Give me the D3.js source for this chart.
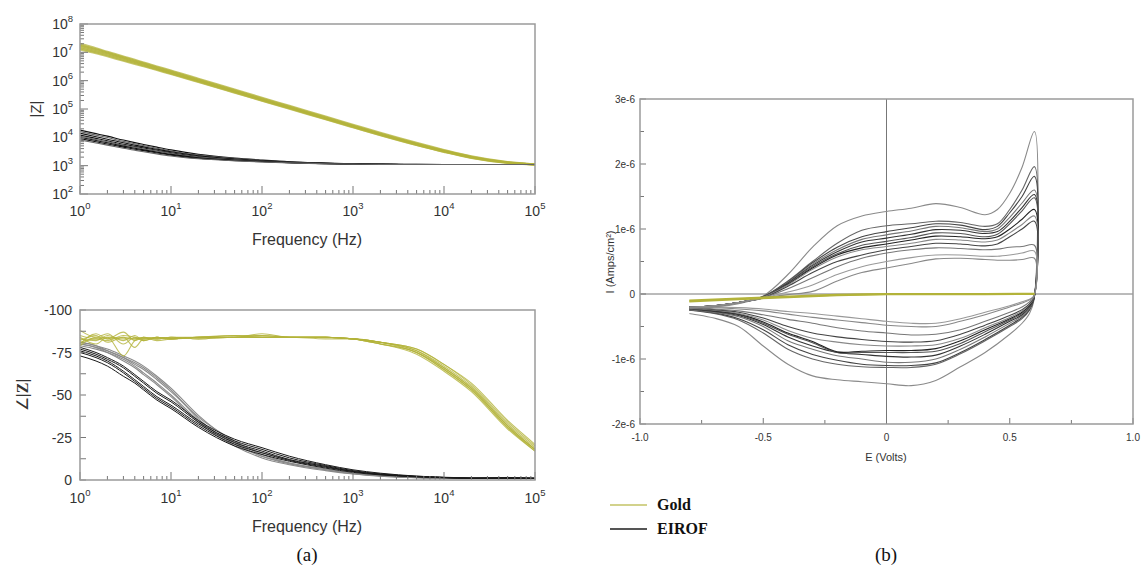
<!DOCTYPE html>
<html><head><meta charset="utf-8">
<script src="https://cdn.jsdelivr.net/npm/d3@7"></script>
<style>body{margin:0;background:#fff}svg{display:block}text{font-family:"Liberation Sans",Arial,sans-serif}</style>
</head><body><svg id="c" width="1142" height="571"></svg>
<script>
// ---------------- DATA ----------------
const freqs = [1,1.5,2,3,4,5,7,10,20,50,100,200,500,1000,2000,5000,10000,20000,50000,100000];
const zExp = ["0","1","2","3","4","5"];
const zTickExp = ["2","3","4","5","6","7","8"];
const phaseTicks = [0,-25,-50,-75,-100];
const eTicks = [-1.0,-0.5,0,0.5,1.0];
const eTickLabels = ["-1.0","-0.5","0","0.5","1.0"];
const iTicks = [-2e-6,-1e-6,0,1e-6,2e-6,3e-6];
const iTickLabels = ["-2e-6","-1e-6","0","1e-6","2e-6","3e-6"];

// |Z| gold (ohm)
const zGold1 = [2.0e7,1.4e7,1.05e7,7.2e6,5.5e6,4.4e6,3.2e6,2.3e6,1.17e6,4.9e5,2.5e5,1.3e5,5.4e4,2.8e4,1.45e4,6.4e3,3.6e3,2.15e3,1.35e3,1.12e3];
const zGold2 = [1.8e7,1.3e7,9.8e6,6.7e6,5.1e6,4.1e6,3.0e6,2.15e6,1.1e6,4.6e5,2.35e5,1.22e5,5.1e4,2.65e4,1.38e4,6.1e3,3.45e3,2.08e3,1.32e3,1.11e3];
const zGold3 = [1.7e7,1.2e7,9.2e6,6.3e6,4.8e6,3.9e6,2.8e6,2.0e6,1.03e6,4.3e5,2.2e5,1.15e5,4.8e4,2.5e4,1.3e4,5.8e3,3.3e3,2.0e3,1.3e3,1.1e3];
const zGold4 = [1.55e7,1.1e7,8.5e6,5.9e6,4.5e6,3.65e6,2.65e6,1.9e6,9.8e5,4.1e5,2.1e5,1.1e5,4.6e4,2.4e4,1.25e4,5.6e3,3.2e3,1.95e3,1.28e3,1.1e3];
const zGold5 = [1.4e7,1.0e7,7.8e6,5.4e6,4.2e6,3.4e6,2.5e6,1.8e6,9.3e5,3.9e5,2.0e5,1.05e5,4.4e4,2.3e4,1.2e4,5.4e3,3.1e3,1.9e3,1.26e3,1.09e3];
const zGold6 = [1.25e7,9.2e6,7.2e6,5.0e6,3.9e6,3.2e6,2.35e6,1.7e6,8.9e5,3.75e5,1.95e5,1.02e5,4.3e4,2.25e4,1.18e4,5.3e3,3.05e3,1.88e3,1.25e3,1.08e3];
// |Z| EIROF
const zIr1 = [1.8e4,1.35e4,1.1e4,8e3,6.5e3,5.6e3,4.5e3,3.6e3,2.5e3,1.85e3,1.58e3,1.38e3,1.24e3,1.17e3,1.13e3,1.11e3,1.1e3,1.1e3,1.1e3,1.1e3];
const zIr2 = [1.6e4,1.2e4,9.8e3,7.2e3,5.9e3,5.1e3,4.1e3,3.3e3,2.35e3,1.78e3,1.53e3,1.35e3,1.22e3,1.16e3,1.13e3,1.11e3,1.1e3,1.1e3,1.1e3,1.1e3];
const zIr3 = [1.4e4,1.05e4,8.6e3,6.4e3,5.3e3,4.6e3,3.8e3,3.1e3,2.25e3,1.72e3,1.5e3,1.33e3,1.21e3,1.15e3,1.12e3,1.1e3,1.1e3,1.1e3,1.1e3,1.1e3];
const zIr4 = [1.2e4,9.2e3,7.6e3,5.7e3,4.8e3,4.2e3,3.5e3,2.85e3,2.1e3,1.66e3,1.46e3,1.31e3,1.2e3,1.15e3,1.12e3,1.1e3,1.1e3,1.1e3,1.1e3,1.1e3];
const zIr5 = [1.1e4,8.4e3,7e3,5.3e3,4.5e3,3.9e3,3.3e3,2.7e3,2.0e3,1.62e3,1.43e3,1.29e3,1.19e3,1.14e3,1.12e3,1.1e3,1.1e3,1.1e3,1.1e3,1.1e3];
const zIr6 = [1.0e4,7.7e3,6.4e3,4.9e3,4.1e3,3.6e3,3.0e3,2.5e3,1.9e3,1.56e3,1.4e3,1.27e3,1.18e3,1.14e3,1.11e3,1.1e3,1.1e3,1.1e3,1.1e3,1.1e3];
const zIr7 = [9e3,7e3,5.8e3,4.5e3,3.8e3,3.4e3,2.8e3,2.35e3,1.82e3,1.52e3,1.37e3,1.26e3,1.17e3,1.13e3,1.11e3,1.1e3,1.1e3,1.1e3,1.1e3,1.1e3];
const zIr8 = [8e3,6.3e3,5.3e3,4.1e3,3.5e3,3.1e3,2.6e3,2.2e3,1.75e3,1.48e3,1.35e3,1.25e3,1.17e3,1.13e3,1.11e3,1.1e3,1.1e3,1.1e3,1.1e3,1.1e3];

// phase gold (deg)
const pGold1 = [-88,-84,-86,-80,-84,-83,-84,-83,-84,-84,-84,-84,-84,-83,-81,-76,-67,-55,-33,-19];
const pGold2 = [-80,-86,-83,-87,-82,-84,-83,-84,-84,-85,-85,-84,-84,-83,-81,-75,-66,-54,-32,-18];
const pGold3 = [-83,-82,-85,-82,-85,-82,-84,-83,-84,-84,-86,-84,-84,-83,-80,-75,-65,-53,-31,-17];
const pGold4 = [-82,-85,-81,-84,-78,-83,-83,-84,-83,-84,-84,-84,-83,-83,-81,-77,-68,-56,-34,-20];
const pGold5 = [-85,-83,-84,-83,-83,-84,-82,-83,-84,-84,-85,-84,-84,-83,-80,-74,-64,-52,-30,-17];
const pGold6 = [-81,-83,-82,-85,-84,-82,-84,-83,-84,-84,-84,-84,-84,-83,-81,-76,-66,-54,-32,-18];
const pGold7 = [-84,-80,-84,-73,-82,-84,-83,-84,-83,-84,-84,-84,-84,-83,-81,-77,-68,-57,-35,-21];
const pGold8 = [-79,-84,-83,-84,-83,-83,-84,-83,-84,-85,-84,-84,-84,-83,-80,-75,-65,-53,-31,-18];
// phase EIROF, darker group
const pIrA1 = [-76,-73,-70,-64,-59,-55,-49,-44,-33,-22,-17,-12,-8,-5,-3.5,-2,-1.5,-1,-1,-1];
const pIrA2 = [-75,-72,-69,-63,-58,-54,-48,-43,-32,-21,-16,-11.5,-7.5,-5,-3.2,-2,-1.4,-1,-1,-1];
const pIrA3 = [-73,-70,-67,-61,-57,-53,-47,-42,-31,-20,-15,-11,-7,-4.5,-3,-1.8,-1.3,-1,-1.2,-0.8];
const pIrA4 = [-77,-74,-71,-66,-61,-57,-51,-46,-34,-23,-18,-13,-8.5,-5.5,-3.6,-2.2,-1.5,-1.1,-1.5,-1];
const pIrA5 = [-78,-75,-72,-67,-62,-58,-52,-47,-35,-24,-19,-14,-9,-6,-4,-2.3,-1.6,-1.2,-1,-1];
// phase EIROF, lighter group
const pIrB1 = [-80,-78,-76,-72,-68,-65,-59,-52,-37,-23,-15,-10,-6.5,-4,-2.6,-1.5,-1.1,-1,-1,-1];
const pIrB2 = [-81,-79,-77,-73,-70,-67,-61,-54,-38,-22,-14,-9.5,-6,-3.7,-2.4,-1.4,-1,-1,-1,-1];
const pIrB3 = [-79,-77,-75,-71,-67,-63,-57,-50,-35,-22,-16,-12,-8,-5,-3,-1.8,-1.2,-1,-1,-1];
const pIrB4 = [-80,-78,-75,-70,-66,-62,-56,-49,-34,-20,-13,-9,-5.5,-3.5,-2.2,-1.3,-1,-1,-1,-1];
const pIrB5 = [-81,-79,-76,-72,-69,-66,-60,-53,-36,-21,-14,-10,-6,-4,-2.5,-1.5,-1,-1,-1,-1];

// CV (E in V, I in uA/cm2)
const eUp   = [-0.8,-0.7,-0.6,-0.5,-0.4,-0.3,-0.2,-0.1,0,0.1,0.2,0.3,0.4,0.45,0.5,0.55,0.6];
const eDown = [0.598,0.58,0.55,0.5,0.4,0.3,0.2,0.1,0,-0.1,-0.2,-0.3,-0.4,-0.5,-0.6,-0.7,-0.8];
const up1  = [-0.22,-0.2,-0.15,-0.03,0.3,0.72,1.05,1.2,1.27,1.32,1.39,1.33,1.22,1.3,1.55,1.95,2.5];
const up2  = [-0.2,-0.18,-0.13,-0.04,0.2,0.5,0.78,0.98,1.05,1.08,1.12,1.1,1.04,1.08,1.3,1.6,1.96];
const up3  = [-0.21,-0.18,-0.13,-0.04,0.19,0.48,0.72,0.88,0.96,1.02,1.08,1.06,0.99,1.04,1.25,1.5,1.81];
const up4  = [-0.2,-0.18,-0.13,-0.05,0.18,0.46,0.68,0.84,0.91,0.97,1.04,1.02,0.96,1.0,1.18,1.4,1.6];
const up5  = [-0.21,-0.19,-0.13,-0.05,0.17,0.44,0.65,0.8,0.86,0.92,0.99,0.98,0.93,0.96,1.12,1.33,1.53];
const up6  = [-0.2,-0.18,-0.13,-0.05,0.16,0.42,0.62,0.75,0.81,0.87,0.94,0.93,0.88,0.92,1.08,1.28,1.48];
const up7  = [-0.2,-0.18,-0.13,-0.05,0.15,0.4,0.6,0.71,0.77,0.83,0.89,0.88,0.85,0.88,1.0,1.15,1.3];
const up8  = [-0.21,-0.18,-0.13,-0.05,0.14,0.38,0.57,0.68,0.73,0.78,0.84,0.83,0.8,0.83,0.94,1.07,1.2];
const up9  = [-0.2,-0.18,-0.13,-0.06,0.12,0.33,0.5,0.6,0.68,0.73,0.78,0.77,0.74,0.77,0.88,1.0,1.12];
const up10 = [-0.21,-0.18,-0.13,-0.06,0.08,0.25,0.42,0.55,0.63,0.68,0.71,0.7,0.68,0.69,0.72,0.73,0.75];
const up11 = [-0.2,-0.18,-0.13,-0.06,0.03,0.14,0.3,0.42,0.5,0.56,0.6,0.6,0.58,0.58,0.6,0.63,0.66];
const up12 = [-0.22,-0.19,-0.14,-0.06,-0.01,0.04,0.2,0.33,0.4,0.47,0.54,0.55,0.53,0.52,0.52,0.53,0.55];
const dn1  = [-0.1,-0.3,-0.45,-0.62,-0.9,-1.12,-1.33,-1.41,-1.38,-1.35,-1.32,-1.26,-1.08,-0.8,-0.5,-0.37,-0.3];
const dn2  = [-0.08,-0.25,-0.38,-0.5,-0.72,-0.92,-1.08,-1.13,-1.13,-1.12,-1.08,-1.0,-0.85,-0.6,-0.4,-0.3,-0.25];
const dn3  = [-0.08,-0.24,-0.36,-0.48,-0.7,-0.9,-1.06,-1.1,-1.1,-1.08,-1.02,-0.93,-0.78,-0.55,-0.38,-0.29,-0.25];
const dn4  = [-0.07,-0.22,-0.34,-0.45,-0.66,-0.85,-1.0,-1.05,-1.05,-1.0,-0.95,-0.85,-0.72,-0.5,-0.35,-0.28,-0.24];
const dn5  = [-0.07,-0.2,-0.32,-0.42,-0.62,-0.8,-0.94,-0.97,-0.96,-0.93,-0.9,-0.8,-0.66,-0.47,-0.33,-0.27,-0.23];
const dn6  = [-0.06,-0.2,-0.3,-0.4,-0.58,-0.76,-0.88,-0.9,-0.9,-0.9,-0.9,-0.75,-0.62,-0.45,-0.32,-0.26,-0.23];
const dn7  = [-0.06,-0.18,-0.28,-0.38,-0.55,-0.72,-0.84,-0.87,-0.87,-0.88,-0.89,-0.73,-0.6,-0.43,-0.31,-0.26,-0.22];
const dn8  = [-0.05,-0.16,-0.26,-0.36,-0.52,-0.68,-0.78,-0.8,-0.8,-0.78,-0.74,-0.68,-0.56,-0.4,-0.3,-0.25,-0.22];
const dn9  = [-0.05,-0.15,-0.24,-0.33,-0.48,-0.62,-0.72,-0.74,-0.73,-0.7,-0.66,-0.6,-0.5,-0.37,-0.28,-0.24,-0.21];
const dn10 = [-0.04,-0.12,-0.2,-0.28,-0.42,-0.55,-0.62,-0.63,-0.6,-0.57,-0.52,-0.45,-0.39,-0.32,-0.26,-0.23,-0.21];
const dn11 = [-0.03,-0.08,-0.12,-0.18,-0.28,-0.38,-0.45,-0.45,-0.42,-0.38,-0.34,-0.3,-0.27,-0.23,-0.21,-0.2,-0.2];
const dn12 = [-0.03,-0.09,-0.14,-0.2,-0.32,-0.42,-0.5,-0.5,-0.48,-0.44,-0.4,-0.36,-0.31,-0.26,-0.23,-0.21,-0.2];
// gold CV
const eGold = [-0.8,-0.6,-0.4,-0.2,0,0.2,0.4,0.6];
const goldFwd = [-0.1,-0.07,-0.04,-0.01,0,0,0,0.005];
const goldRev = [-0.115,-0.08,-0.05,-0.02,-0.005,-0.003,-0.002,-0.001];

const legendNames = ["Gold","EIROF"];

// ---------------- DRAW ----------------
const svg = d3.select("#c");
const GOLD = "#b3b33a", FRAME = "#9a9a9a", TXT = "#333";
const SERIF = "'Liberation Serif','Times New Roman',serif";

const xF = d3.scaleLog().domain([1,1e5]).range([80,535]);
const yZ = d3.scaleLog().domain([1e2,1e8]).range([194,24]);
const yP = d3.scaleLinear().domain([0,-100]).range([480,310]);
const xE = d3.scaleLinear().domain([-1,1]).range([640,1133]);
const yI = d3.scaleLinear().domain([-2e-6,3e-6]).range([424,99]);

const minorLog = [];
for (let d=0; d<5; d++) for (let k=2;k<=9;k++) minorLog.push(k*Math.pow(10,d));
const minorZ = [];
for (let d=2; d<8; d++) for (let k=2;k<=9;k++) minorZ.push(k*Math.pow(10,d));

function tickLines(g, vals, isX, scale, base, len, color){
  g.selectAll(null).data(vals).enter().append("line")
   .attr("x1", d=> isX? scale(d): base).attr("x2", d=> isX? scale(d): base+len)
   .attr("y1", d=> isX? base: scale(d)).attr("y2", d=> isX? base-len: scale(d))
   .attr("stroke", color).attr("stroke-width",1);
}
function pow10Label(g, x, y, exp, anchor){
  const t = g.append("text").attr("x",x).attr("y",y).attr("text-anchor",anchor)
    .attr("font-size",14).attr("fill",TXT);
  t.append("tspan").text("10");
  t.append("tspan").attr("dy",-7).attr("font-size",9.5).text(exp);
}

// ---- panel 1: |Z| ----
const g1 = svg.append("g");
const lineZ = d3.line().x((d,i)=>xF(freqs[i])).y(d=>yZ(d)).curve(d3.curveMonotoneX);
[zGold1,zGold2,zGold3,zGold4,zGold5,zGold6].forEach(s=>{
  g1.append("path").attr("d",lineZ(s)).attr("fill","none").attr("stroke",GOLD).attr("stroke-width",2).attr("opacity",0.75);
});
[zIr1,zIr2,zIr3,zIr4,zIr5,zIr6,zIr7,zIr8].forEach((s,i)=>{
  g1.append("path").attr("d",lineZ(s)).attr("fill","none").attr("stroke", i%3===1?"#666":"#111").attr("stroke-width",1.1);
});
tickLines(g1, [1,10,100,1000,10000,100000], true, xF, 194, 8, "#777");
tickLines(g1, minorLog, true, xF, 194, 4, "#777");
tickLines(g1, [1e2,1e3,1e4,1e5,1e6,1e7,1e8], false, yZ, 80, 8, "#777");
tickLines(g1, minorZ, false, yZ, 80, 4, "#777");
g1.append("rect").attr("x",80).attr("y",24).attr("width",455).attr("height",170).attr("fill","none").attr("stroke",FRAME).attr("stroke-width",1.5);
zExp.forEach((e,i)=> pow10Label(g1, xF(Math.pow(10,i)), 216, e, "middle"));
zTickExp.forEach(e=> pow10Label(g1, 73, yZ(Math.pow(10,+e))+5, e, "end"));
g1.append("text").attr("x",307).attr("y",245).attr("text-anchor","middle").attr("font-size",16).attr("fill",TXT).text("Frequency (Hz)");
g1.append("text").attr("transform","translate(41,109) rotate(-90)").attr("text-anchor","middle").attr("font-size",15).attr("fill",TXT).text("|Z|");

// ---- panel 2: phase ----
const g2 = svg.append("g");
const lineP = d3.line().x((d,i)=>xF(freqs[i])).y(d=>yP(d)).curve(d3.curveMonotoneX);
[pIrB1,pIrB2,pIrB3,pIrB4,pIrB5].forEach(s=>{
  g2.append("path").attr("d",lineP(s)).attr("fill","none").attr("stroke","#8a8a8a").attr("stroke-width",1.1);
});
[pIrA1,pIrA2,pIrA3,pIrA4,pIrA5].forEach(s=>{
  g2.append("path").attr("d",lineP(s)).attr("fill","none").attr("stroke","#1a1a1a").attr("stroke-width",1);
});
[pGold1,pGold2,pGold3,pGold4,pGold5,pGold6,pGold7,pGold8].forEach(s=>{
  g2.append("path").attr("d",lineP(s)).attr("fill","none").attr("stroke",GOLD).attr("stroke-width",1.1).attr("opacity",0.8);
});
tickLines(g2, [1,10,100,1000,10000,100000], true, xF, 480, 8, "#777");
tickLines(g2, minorLog, true, xF, 480, 4, "#777");
tickLines(g2, [0,-12.5,-25,-37.5,-50,-62.5,-75,-87.5,-100], false, yP, 80, 6, "#777");
g2.append("rect").attr("x",80).attr("y",310).attr("width",455).attr("height",170).attr("fill","none").attr("stroke",FRAME).attr("stroke-width",1.5);
zExp.forEach((e,i)=> pow10Label(g2, xF(Math.pow(10,i)), 503, e, "middle"));
phaseTicks.forEach(v=> g2.append("text").attr("x",72).attr("y",yP(v)+5).attr("text-anchor","end").attr("font-size",14).attr("fill",TXT).text(v));
g2.append("text").attr("x",307).attr("y",532).attr("text-anchor","middle").attr("font-size",16).attr("fill",TXT).text("Frequency (Hz)");
const yl = g2.append("text").attr("transform","translate(28,395) rotate(-90)").attr("text-anchor","middle").attr("font-size",16).attr("fill",TXT);
yl.append("tspan").text("∠|");
yl.append("tspan").style("font-family",SERIF).style("font-weight","bold").text("Z");
yl.append("tspan").text("|");
svg.append("text").attr("x",307).attr("y",561).attr("text-anchor","middle").attr("font-size",19).style("font-family",SERIF).attr("fill","#111").text("(a)");

// ---- panel 3: CV ----
const g3 = svg.append("g");
g3.append("line").attr("x1",xE(0)).attr("x2",xE(0)).attr("y1",99).attr("y2",424).attr("stroke","#777").attr("stroke-width",1);
g3.append("line").attr("x1",640).attr("x2",1133).attr("y1",yI(0)).attr("y2",yI(0)).attr("stroke","#777").attr("stroke-width",1);
const loop = d3.line().x(d=>xE(d[0])).y(d=>yI(d[1]*1e-6)).curve(d3.curveCatmullRom.alpha(0.5));
const ups = [up1,up2,up3,up4,up5,up6,up7,up8,up9,up10,up11,up12];
const dns = [dn1,dn2,dn3,dn4,dn5,dn6,dn7,dn8,dn9,dn10,dn11,dn12];
const cvCol = ["#8a8a8a","#666","#444","#777","#333","#555","#222","#888","#444","#777","#999","#888"];
ups.forEach((u,k)=>{
  const pts = eUp.map((e,i)=>[e,u[i]]).concat(eDown.map((e,i)=>[e,dns[k][i]]));
  g3.append("path").attr("d",loop(pts)).attr("fill","none").attr("stroke",cvCol[k]).attr("stroke-width",1.1);
});
const gl = d3.line().x((d,i)=>xE(eGold[i])).y(d=>yI(d*1e-6));
[goldFwd,goldRev].forEach(s=> g3.append("path").attr("d",gl(s)).attr("fill","none").attr("stroke",GOLD).attr("stroke-width",2));
tickLines(g3, eTicks, true, xE, 424, 6, "#777");
tickLines(g3, [-0.75,-0.25,0.25,0.75], true, xE, 424, 4, "#777");
tickLines(g3, iTicks, false, yI, 640, 6, "#777");
tickLines(g3, [-1.5e-6,-0.5e-6,0.5e-6,1.5e-6,2.5e-6], false, yI, 640, 4, "#777");
g3.append("rect").attr("x",640).attr("y",99).attr("width",493).attr("height",325).attr("fill","none").attr("stroke",FRAME).attr("stroke-width",1.5);
eTicks.forEach((v,i)=> g3.append("text").attr("x",xE(v)).attr("y",441).attr("text-anchor","middle").attr("font-size",10).attr("fill",TXT).text(eTickLabels[i]));
iTicks.forEach((v,i)=> g3.append("text").attr("x",635).attr("y",yI(v)+4).attr("text-anchor","end").attr("font-size",10).attr("fill",TXT).text(iTickLabels[i]));
g3.append("text").attr("x",886).attr("y",461).attr("text-anchor","middle").attr("font-size",11).attr("fill",TXT).text("E (Volts)");
g3.append("text").attr("transform","translate(614,262) rotate(-90)").attr("text-anchor","middle").attr("font-size",11).attr("fill",TXT).text("I (Amps/cm²)");

// legend
const legCols = ["#d2d28c","#555"];
legendNames.forEach((n,i)=>{
  const y = 505 + i*24;
  svg.append("line").attr("x1",610).attr("x2",647).attr("y1",y).attr("y2",y).attr("stroke",legCols[i]).attr("stroke-width",2);
  svg.append("text").attr("x",657).attr("y",y+5).attr("font-size",16).style("font-weight","bold").style("font-family",SERIF).attr("fill","#111").text(n);
});
svg.append("text").attr("x",886).attr("y",561).attr("text-anchor","middle").attr("font-size",19).style("font-family",SERIF).attr("fill","#111").text("(b)");
</script></body></html>
